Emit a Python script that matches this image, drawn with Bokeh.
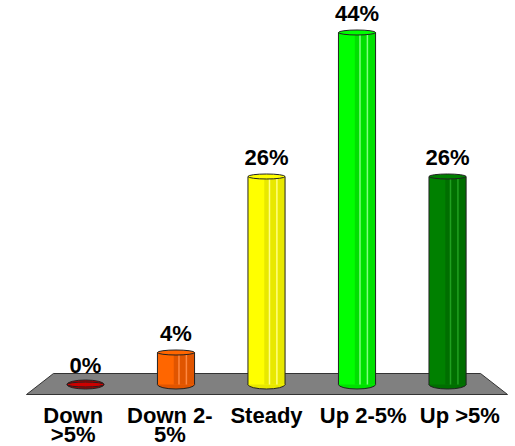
from bokeh.plotting import figure
from bokeh.models import Range1d, ColumnDataSource
from bokeh.embed import file_html
from bokeh.resources import INLINE
from bokeh.core.properties import value

# ---- data ----
categories = ["Down\n>5%", "Down 2-\n5%", "Steady", "Up 2-5%", "Up >5%"]
values = [0, 4, 26, 44, 26]
value_labels = ["0%", "4%", "26%", "44%", "26%"]
colors = ["#CC0000", "#FF6600", "#FFFF00", "#00FF00", "#008000"]
dark_colors = ["#B00000", "#E05500", "#E8E800", "#00E000", "#006E00"]
light_colors = ["#E03030", "#FF8840", "#FFFF80", "#80FF80", "#20A020"]

n = len(categories)
xs = list(range(n))
bw = 0.41  # bar width in category units

p = figure(width=515, height=446, output_backend="svg", toolbar_location=None,
           x_range=Range1d(-0.939, n - 1 + 0.751), y_range=Range1d(-7.75, 48.0),
           min_border=0, outline_line_color=None)
p.axis.visible = False
p.grid.visible = False
p.background_fill_color = "white"
p.border_fill_color = "white"

# floor
p.patch(x=[-0.354, n - 1 + 0.365, n - 1 + 0.663, -0.652],
        y=[1.375, 1.375, -1.25, -1.25],
        fill_color="#808080", line_color="#333333", line_width=1)

src = ColumnDataSource(dict(x=xs, top=values, c=colors, d=dark_colors, l=light_colors,
                            lab=value_labels))

# bottom ellipse
p.ellipse(x="x", y=0, width=bw, height=9, height_units="screen", source=src,
          fill_color="d", line_color="#222222", line_width=1)
# body
p.vbar(x="x", bottom=0, top="top", width=bw, source=src, fill_color="c", line_color=None)
# darker right part
src_r = ColumnDataSource(dict(x=[x + bw * 0.22 for x in xs], top=values, d=dark_colors))
p.vbar(x="x", bottom=0, top="top", width=bw * 0.56, source=src_r, fill_color="d", line_color=None)
# light stripes
for frac in (0.08, 0.28):
    src_s = ColumnDataSource(dict(x=[x + bw * frac for x in xs], top=values, l=light_colors))
    p.vbar(x="x", bottom=0, top="top", width=bw * 0.04, source=src_s, fill_color="l", line_color=None)
# sides
p.segment(x0=[x - bw / 2 for x in xs], y0=[0] * n, x1=[x - bw / 2 for x in xs], y1=values,
          line_color="#222222", line_width=1)
p.segment(x0=[x + bw / 2 for x in xs], y0=[0] * n, x1=[x + bw / 2 for x in xs], y1=values,
          line_color="#222222", line_width=1)
# top ellipse
p.ellipse(x="x", y="top", width=bw, height=5, height_units="screen", source=src,
          fill_color="c", line_color="#222222", line_width=1)

# value labels
p.text(x="x", y="top", text="lab", source=src, y_offset=-19,
       text_align="center", text_baseline="alphabetic",
       text_font=value("Liberation Sans"), text_font_style="bold",
       text_font_size="22px", text_color="black")

# category labels (spread slightly wider along front edge of floor)
mid = (n - 1) / 2
lx = [mid + (x - mid) * 1.068 for x in xs]
line1 = [c.split("\n")[0] for c in categories]
line2 = [c.split("\n")[1] if "\n" in c else "" for c in categories]
for lines, off in ((line1, 31), (line2, 50)):
    p.text(x=lx, y=[0] * n, text=lines, y_offset=off,
           text_align="center", text_baseline="alphabetic",
           text_font=value("Liberation Sans"), text_font_style="bold",
           text_font_size="22px", text_color="black")

open("out.html", "w").write(file_html(p, INLINE))
